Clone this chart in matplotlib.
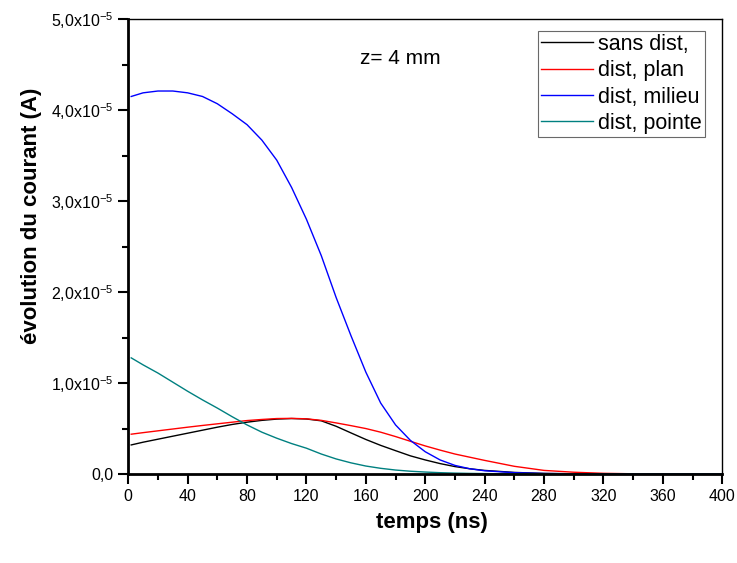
import matplotlib
matplotlib.use('Agg')
import matplotlib.pyplot as plt
from matplotlib.ticker import MultipleLocator, FuncFormatter

plt.rcParams['font.family'] = ['Liberation Sans', 'DejaVu Sans']
plt.rcParams['mathtext.fontset'] = 'custom'
plt.rcParams['mathtext.rm'] = 'Liberation Sans'

# temps (ns)
temps = [2, 10, 20, 30, 40, 50, 60, 70, 80, 90, 100, 110, 120, 130, 140, 150,
         160, 170, 180, 190, 200, 210, 220, 230, 240, 260, 280, 300, 320, 340,
         360, 380, 400]

# courant, en 1e-5 A
sans_dist = [0.32, 0.35, 0.383, 0.416, 0.449, 0.482, 0.515, 0.545, 0.57, 0.59,
             0.604, 0.61, 0.605, 0.585, 0.525, 0.452, 0.38, 0.315, 0.257, 0.20,
             0.155, 0.115, 0.082, 0.058, 0.04, 0.018, 0.007, 0.003, 0.001, 0.0,
             0.0, 0.0, 0.0]
dist_plan = [0.438, 0.455, 0.475, 0.495, 0.515, 0.534, 0.552, 0.57, 0.588, 0.60,
             0.61, 0.612, 0.607, 0.59, 0.562, 0.532, 0.50, 0.46, 0.412, 0.36,
             0.309, 0.263, 0.22, 0.185, 0.15, 0.085, 0.04, 0.02, 0.008, 0.003,
             0.001, 0.0, 0.0]
dist_milieu = [4.15, 4.19, 4.21, 4.21, 4.19, 4.15, 4.07, 3.96, 3.84, 3.67,
               3.45, 3.15, 2.80, 2.40, 1.94, 1.52, 1.12, 0.78, 0.54, 0.37,
               0.245, 0.155, 0.095, 0.058, 0.036, 0.015, 0.006, 0.003, 0.001, 0.0,
               0.0, 0.0, 0.0]
dist_pointe = [1.277, 1.20, 1.11, 1.01, 0.91, 0.815, 0.725, 0.63, 0.54, 0.46,
               0.394, 0.335, 0.284, 0.22, 0.166, 0.123, 0.088, 0.063, 0.044, 0.031,
               0.022, 0.015, 0.01, 0.007, 0.005, 0.002, 0.001, 0.0, 0.0, 0.0,
               0.0, 0.0, 0.0]

fig = plt.figure(figsize=(7.37, 5.63), dpi=100)
ax = fig.add_axes([0.174, 0.158, 0.806, 0.808])

ax.plot(temps, [v * 1e-5 for v in sans_dist], color='black', lw=1, label='sans dist,')
ax.plot(temps, [v * 1e-5 for v in dist_plan], color='red', lw=1, label='dist, plan')
ax.plot(temps, [v * 1e-5 for v in dist_milieu], color='blue', lw=1, label='dist, milieu')
ax.plot(temps, [v * 1e-5 for v in dist_pointe], color='#008080', lw=1, label='dist, pointe')

ax.set_xlim(0, 400)
ax.set_ylim(0, 5e-5)
ax.xaxis.set_major_locator(MultipleLocator(40))
ax.xaxis.set_minor_locator(MultipleLocator(20))
ax.yaxis.set_major_locator(MultipleLocator(1e-5))
ax.yaxis.set_minor_locator(MultipleLocator(0.5e-5))


def fmt(v, pos):
    m = v / 1e-5
    if abs(m) < 1e-9:
        return '0,0'
    return ('%.1f' % m).replace('.', ',') + 'x10$^{-5}$'


ax.yaxis.set_major_formatter(FuncFormatter(fmt))
ax.tick_params(which='major', direction='out', length=7.5, width=1.5, labelsize=11.5, pad=3)
ax.tick_params(which='minor', direction='out', length=4, width=1.5)
ax.spines['left'].set_linewidth(2)
ax.spines['bottom'].set_linewidth(2)
ax.spines['top'].set_linewidth(1)
ax.spines['right'].set_linewidth(1)

ax.set_xlabel('temps (ns)', fontsize=16, fontweight='bold')
ax.set_ylabel('évolution du courant (A)', fontsize=16, fontweight='bold')
ax.xaxis.set_label_coords(0.512, -0.083)
ax.yaxis.set_label_coords(-0.145, 0.567)

ax.text(156, 4.57e-5, 'z= 4 mm', fontsize=15, va='center')

leg = ax.legend(loc='upper right', bbox_to_anchor=(0.971, 0.975), fontsize=15.5,
                frameon=True, fancybox=False, edgecolor='#444444', handlelength=2.4,
                handletextpad=0.25, labelspacing=0.25, borderpad=0.15, borderaxespad=0)
leg.get_frame().set_linewidth(0.8)

fig.savefig('out.png', dpi=100)
